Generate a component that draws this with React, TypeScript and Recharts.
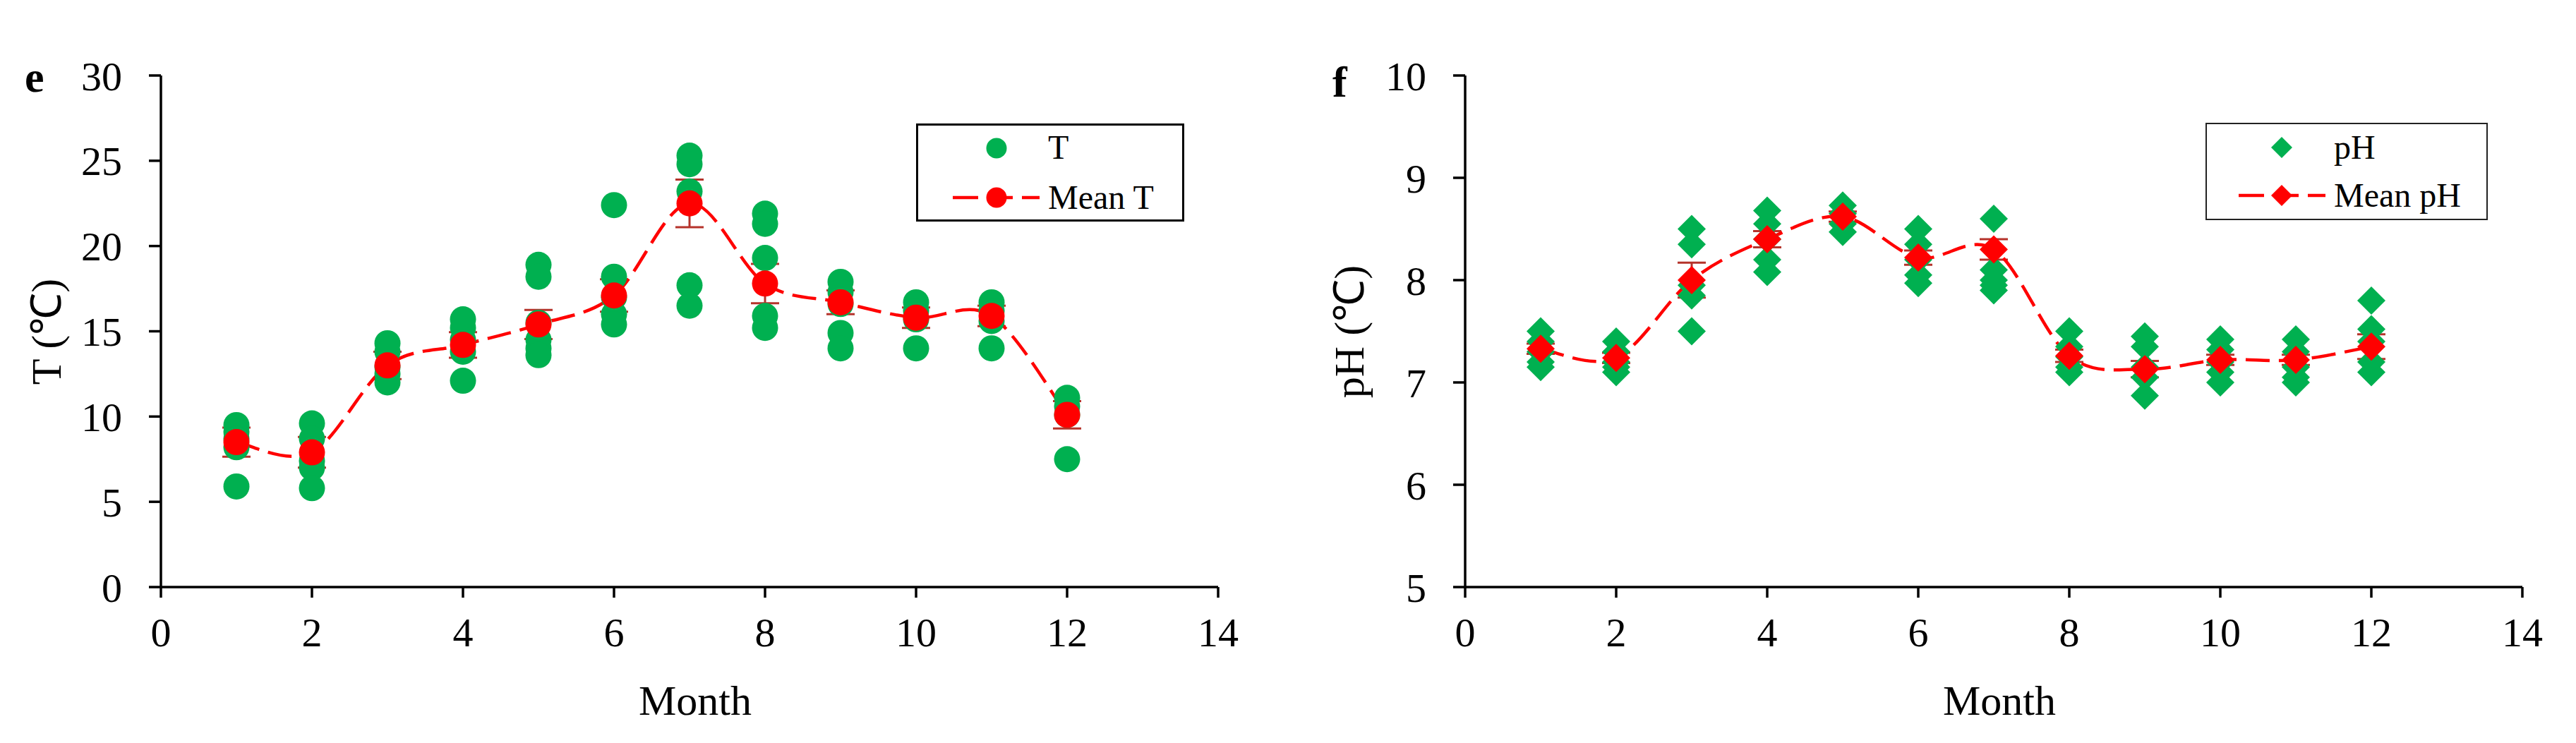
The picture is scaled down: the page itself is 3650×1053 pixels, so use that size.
import React from 'react';
import { ComposedChart, Scatter, Line, XAxis, YAxis, ErrorBar, Legend } from 'recharts';

// ---------- data ----------
const months = [1, 2, 3, 4, 5, 6, 7, 8, 9, 10, 11, 12];

const tSamples = [
  [9.5, 9.1, 8.7, 8.2, 5.9],
  [9.6, 8.7, 7.4, 7.0, 5.8],
  [14.3, 13.8, 12.9, 12.5, 12.0],
  [15.7, 15.2, 14.5, 13.8, 12.1],
  [18.9, 18.2, 15.5, 14.5, 14.0, 13.6],
  [22.4, 18.2, 17.0, 16.0, 15.4],
  [25.3, 24.8, 23.2, 17.7, 16.5],
  [21.9, 21.3, 19.3, 15.9, 15.2],
  [17.9, 17.3, 16.6, 14.9, 14.0],
  [16.7, 16.2, 15.7, 14.0],
  [16.7, 16.2, 15.6, 14.0],
  [11.1, 10.6, 10.1, 7.5],
];
const tMeans = [8.5, 7.9, 13.0, 14.2, 15.4, 17.1, 22.5, 17.8, 16.7, 15.8, 15.9, 10.1];
const tErrors = [0.85, 0.9, 0.8, 0.75, 0.85, 0.95, 1.4, 1.15, 0.7, 0.6, 0.6, 0.8];

const phSamples = [
  [7.5, 7.4, 7.3, 7.2, 7.15],
  [7.4, 7.3, 7.2, 7.15, 7.1],
  [8.5, 8.35, 7.95, 7.85, 7.5],
  [8.68, 8.55, 8.4, 8.2, 8.08],
  [8.73, 8.65, 8.55, 8.47],
  [8.5, 8.35, 8.2, 8.05, 7.97],
  [8.6, 8.1, 8.0, 7.95, 7.9],
  [7.5, 7.35, 7.25, 7.15, 7.1],
  [7.45, 7.35, 7.15, 7.05, 6.87],
  [7.42, 7.32, 7.2, 7.1, 7.0],
  [7.42, 7.3, 7.15, 7.05, 7.0],
  [7.8, 7.52, 7.4, 7.2, 7.1],
];
const phMeans = [7.33, 7.24, 8.0, 8.4, 8.62, 8.22, 8.3, 7.26, 7.13, 7.22, 7.22, 7.35];
const phErrors = [0.05, 0.05, 0.17, 0.08, 0.05, 0.07, 0.1, 0.06, 0.08, 0.05, 0.05, 0.12];

const xTicks = [0, 2, 4, 6, 8, 10, 12, 14];
const tTicks = [0, 5, 10, 15, 20, 25, 30];
const phTicks = [5, 6, 7, 8, 9, 10];

// ---------- styles ----------
const GREEN = '#00B050';
const RED = '#FF0000';
const ERR = '#B5332B';
const FONT = '"Liberation Serif", "Times New Roman", serif';
const AXIS_W = 3.5;

// Excel-like smoothed line (Catmull-Rom as cubic Bezier)
function excelCurve(context: any) {
  let pts: number[][] = [];
  return {
    areaStart() {},
    areaEnd() {},
    lineStart() {
      pts = [];
    },
    point(x: number, y: number) {
      pts.push([+x, +y]);
    },
    lineEnd() {
      const n = pts.length;
      if (!n) return;
      context.moveTo(pts[0][0], pts[0][1]);
      for (let i = 0; i < n - 1; i++) {
        const p0 = pts[i - 1] || pts[i];
        const p1 = pts[i];
        const p2 = pts[i + 1];
        const p3 = pts[i + 2] || p2;
        context.bezierCurveTo(
          p1[0] + (p2[0] - p0[0]) / 6,
          p1[1] + (p2[1] - p0[1]) / 6,
          p2[0] - (p3[0] - p1[0]) / 6,
          p2[1] - (p3[1] - p1[1]) / 6,
          p2[0],
          p2[1]
        );
      }
    },
  };
}

const circleShape = (color: string, r: number) => (p: any) =>
  <circle key={`c-${p.index}-${p.cx}-${p.cy}`} cx={p.cx} cy={p.cy} r={r} fill={color} />;

const diamondShape = (color: string, h: number) => (p: any) =>
  (
    <polygon
      key={`d-${p.index}-${p.cx}-${p.cy}`}
      points={`${p.cx},${p.cy - h} ${p.cx + h},${p.cy} ${p.cx},${p.cy + h} ${p.cx - h},${p.cy}`}
      fill={color}
    />
  );

type PanelProps = {
  left: number;
  width: number;
  marginRight: number;
  samples: number[][];
  means: number[];
  errors: number[];
  yDomain: [number, number];
  yTicks: number[];
  yLabel: string;
  yLabelX: number;
  letter: string;
  letterX: number;
  letterY: number;
  marker: 'circle' | 'diamond';
  sampleName: string;
  meanName: string;
  legend: { left: number; top: number; w: number; h: number; border: number; borderColor: string; mx: number; tx: number; rows: number[]; bases: number[]; dashFrom: number; dashTo: number };
};

function Panel(props: PanelProps) {
  const {
    left, width, marginRight, samples, means, errors, yDomain, yTicks, yLabel, yLabelX,
    letter, letterX, letterY, marker, sampleName, meanName, legend,
  } = props;

  const scatterData = months.flatMap((m, i) => samples[i].map((v) => ({ month: m, value: v })));
  const meanData = months.map((m, i) => ({ month: m, mean: means[i], err: errors[i] }));

  const sampleShape = marker === 'circle' ? circleShape(GREEN, 18.5) : diamondShape(GREEN, 20);
  const meanShape = marker === 'circle' ? circleShape(RED, 18.5) : diamondShape(RED, 20);

  const legendContent = () => {
    const iw = legend.w - 2 * legend.border;
    const ih = legend.h - 2 * legend.border;
    const lm = (cx: number, cy: number, color: string) =>
      marker === 'circle' ? (
        <circle cx={cx} cy={cy} r={14.5} fill={color} />
      ) : (
        <polygon points={`${cx},${cy - 15} ${cx + 15},${cy} ${cx},${cy + 15} ${cx - 15},${cy}`} fill={color} />
      );
    return (
      <div
        style={{
          width: legend.w,
          height: legend.h,
          boxSizing: 'border-box',
          border: `${legend.border}px solid ${legend.borderColor}`,
          background: '#fff',
        }}
      >
        <svg width={iw} height={ih} style={{ display: 'block' }}>
          {lm(legend.mx, legend.rows[0], GREEN)}
          <text x={legend.tx} y={legend.bases[0]} fontFamily={FONT} fontSize={48} fill="#000">
            {sampleName}
          </text>
          <line
            x1={legend.dashFrom}
            x2={legend.dashTo}
            y1={legend.rows[1]}
            y2={legend.rows[1]}
            stroke={RED}
            strokeWidth={4.5}
            strokeDasharray="36 13"
          />
          {lm(legend.mx, legend.rows[1], RED)}
          <text x={legend.tx} y={legend.bases[1]} fontFamily={FONT} fontSize={48} fill="#000">
            {meanName}
          </text>
        </svg>
      </div>
    );
  };

  const yLabelContent = () => (
    <g>
      <text x={letterX} y={letterY} fontFamily={FONT} fontWeight="bold" fontSize={62} fill="#000">
        {letter}
      </text>
      <text
        x={yLabelX}
        y={470}
        transform={`rotate(-90, ${yLabelX}, 470)`}
        textAnchor="middle"
        fontFamily={FONT}
        fontSize={60}
        fill="#000"
      >
        {yLabel}
      </text>
    </g>
  );

  const xLabelContent = (p: any) => {
    const vb = p.viewBox || { x: 228, width: 1498 };
    return (
      <text x={vb.x + vb.width / 2 + 8} y={1013} textAnchor="middle" fontFamily={FONT} fontSize={60} fill="#000">
        Month
      </text>
    );
  };

  return (
    <div style={{ position: 'absolute', left, top: 0, width, height: 1053 }}>
      <ComposedChart width={width} height={1053} margin={{ top: 107, right: marginRight, left: 0, bottom: 0 }}>
        <XAxis
          dataKey="month"
          type="number"
          domain={[0, 14]}
          ticks={xTicks}
          allowDataOverflow
          height={221}
          tickSize={15}
          tickMargin={28}
          axisLine={{ stroke: '#000', strokeWidth: AXIS_W }}
          tickLine={{ stroke: '#000', strokeWidth: AXIS_W }}
          tick={{ fontSize: 58, fill: '#000', fontFamily: FONT }}
          label={xLabelContent}
        />
        <YAxis
          type="number"
          domain={yDomain}
          ticks={yTicks}
          allowDataOverflow
          width={228}
          tickSize={17}
          tickMargin={38}
          axisLine={{ stroke: '#000', strokeWidth: AXIS_W }}
          tickLine={{ stroke: '#000', strokeWidth: AXIS_W }}
          tick={{ fontSize: 58, fill: '#000', fontFamily: FONT }}
          label={yLabelContent}
        />
        <Scatter
          name={sampleName}
          data={scatterData}
          dataKey="value"
          fill={GREEN}
          shape={sampleShape}
          isAnimationActive={false}
        />
        <Line
          name={meanName}
          data={meanData}
          dataKey="mean"
          type={excelCurve as any}
          stroke={RED}
          strokeWidth={4.5}
          strokeDasharray="34 13"
          dot={meanShape}
          activeDot={false}
          isAnimationActive={false}
        >
          <ErrorBar dataKey="err" direction="y" width={20} stroke={ERR} strokeWidth={3} />
        </Line>
        <Legend
          layout="vertical"
          align="center"
          verticalAlign="middle"
          content={legendContent}
          wrapperStyle={{ position: 'absolute', left: legend.left, top: legend.top, width: legend.w, height: legend.h }}
        />
      </ComposedChart>
    </div>
  );
}

export default function App() {
  return (
    <div style={{ position: 'absolute', left: 0, top: 0, width: 3650, height: 1053, background: '#fff', overflow: 'hidden' }}>
      <Panel
        left={0}
        width={1825}
        marginRight={99}
        samples={tSamples}
        means={tMeans}
        errors={tErrors}
        yDomain={[0, 30]}
        yTicks={tTicks}
        yLabel="T (℃)"
        yLabelX={86}
        letter="e"
        letterX={35}
        letterY={130}
        marker="circle"
        sampleName="T"
        meanName="Mean T"
        legend={{
          left: 1298, top: 175, w: 380, h: 139, border: 3, borderColor: '#000',
          mx: 111, tx: 184, rows: [32, 102], bases: [47, 118], dashFrom: 49, dashTo: 172,
        }}
      />
      <Panel
        left={1848}
        width={1802}
        marginRight={76}
        samples={phSamples}
        means={phMeans}
        errors={phErrors}
        yDomain={[5, 10]}
        yTicks={phTicks}
        yLabel="pH (℃)"
        yLabelX={84}
        letter="f"
        letterX={40}
        letterY={137}
        marker="diamond"
        sampleName="pH"
        meanName="Mean pH"
        legend={{
          left: 3125 - 1848, top: 174, w: 400, h: 138, border: 2, borderColor: '#222',
          mx: 106, tx: 180, rows: [33, 101], bases: [49, 117], dashFrom: 45, dashTo: 168,
        }}
      />
    </div>
  );
}
